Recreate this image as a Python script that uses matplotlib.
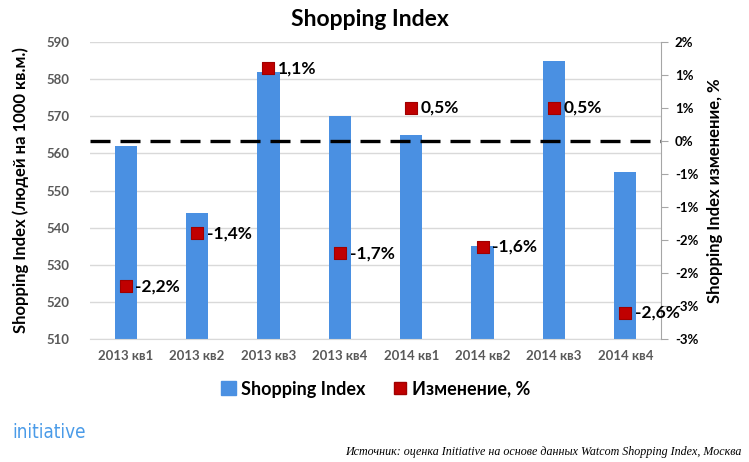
import matplotlib
matplotlib.use("Agg")
import matplotlib.pyplot as plt
from matplotlib.patches import Patch
from matplotlib.lines import Line2D
from matplotlib.ticker import FuncFormatter
import math

plt.rcParams['font.family'] = ['Lato', 'Open Sans', 'DejaVu Sans']

categories = ["2013 кв1", "2013 кв2", "2013 кв3", "2013 кв4",
              "2014 кв1", "2014 кв2", "2014 кв3", "2014 кв4"]
index_values = [562, 544, 582, 570, 565, 535, 585, 555]
change_pct = [-2.2, -1.4, 1.1, -1.7, 0.5, -1.6, 0.5, -2.6]
left_ticks = [510, 520, 530, 540, 550, 560, 570, 580, 590]
right_ticks = [-3.0, -2.5, -2.0, -1.5, -1.0, -0.5, 0.0, 0.5, 1.0, 1.5]

title = "Shopping Index"
left_label = "Shopping Index (людей на 1000 кв.м.)"
right_label = "Shopping Index изменение, %"
legend_labels = ["Shopping Index", "Изменение, %"]
source = "Источник: оценка Initiative на основе данных Watcom Shopping Index, Москва"
logo = "initiative"

BAR = "#4a90e2"
RED = "#c00000"
GRAY = "#595959"

fig = plt.figure(figsize=(7.49, 4.62), dpi=100)
ax = fig.add_axes([90/749, 1-339/462, (661-90)/749, (339-42)/462])
ax2 = ax.twinx()

x = list(range(len(categories)))
ax.bar(x, index_values, width=0.31, color=BAR, zorder=2)
ax.set_xlim(-0.5, len(categories)-0.5)
ax.set_ylim(510, 590)
ax.set_yticks(left_ticks)
ax.yaxis.grid(True, color="#d9d9d9", lw=1, zorder=0)
ax.set_axisbelow(True)
for s in ["top", "left", "right"]:
    ax.spines[s].set_visible(False)
ax.spines["bottom"].set_color("#d9d9d9")
ax.tick_params(axis="y", length=0, pad=15, labelsize=9.5, labelcolor=GRAY)
ax.tick_params(axis="x", length=0, pad=8, labelsize=9.5, labelcolor=GRAY)
ax.set_xticks(x)
ax.set_xticklabels(categories, fontweight="bold")
for t in ax.get_yticklabels():
    t.set_fontweight("bold")
ax.set_ylabel(left_label, fontsize=12, fontweight="bold", labelpad=12)

ax2.set_ylim(-3.0, 1.5)
ax2.set_yticks(right_ticks)

def pct_fmt(v, pos):
    r = int(math.copysign(math.floor(abs(v) + 0.5 + 1e-9), v))
    return f"{r}%"

ax2.yaxis.set_major_formatter(FuncFormatter(pct_fmt))
for s in ["top", "left", "bottom"]:
    ax2.spines[s].set_visible(False)
ax2.spines["right"].set_color("#a6a6a6")
ax2.tick_params(axis="y", length=5, color="#a6a6a6", pad=5, labelsize=9.5, labelcolor="black")
for t in ax2.get_yticklabels():
    t.set_fontweight("bold")
ax2.set_ylabel(right_label, fontsize=12, fontweight="bold", labelpad=6)

ax2.axhline(0, color="black", lw=2.4, dashes=(6, 3), zorder=3)
ax2.scatter(x, change_pct, marker="s", s=85, color=RED, edgecolors="#a00000",
            linewidths=0.8, zorder=4)
for xi, v in zip(x, change_pct):
    ax2.annotate(f"{v:.1f}%".replace(".", ","), (xi, v), xytext=(7, 0),
                 textcoords="offset points", va="center", ha="left",
                 fontsize=12.5, fontweight="bold", color="black", zorder=5)

fig.text(370/749, 1-20/462, title, ha="center", va="center", fontsize=16.5, fontweight="bold")

handles = [Patch(facecolor=BAR, edgecolor=BAR),
           Line2D([], [], marker="s", color="none", markerfacecolor=RED,
                  markeredgecolor="#a00000", markersize=9)]
leg = fig.legend(handles, legend_labels, loc="center", bbox_to_anchor=(376/749, 1-389/462),
                 ncol=2, frameon=False, handlelength=0.8, handleheight=0.8,
                 handletextpad=0.3, columnspacing=1.5,
                 prop={"size": 13, "weight": "bold"})

fig.text(12/749, 1-432/462, logo, ha="left", va="center", fontsize=13.5,
         fontstretch="condensed", color="#4a9be8", family=["DejaVu Sans"])
fig.text(742/749, 1-452/462, source, ha="right", va="center", fontsize=8.65,
         style="italic", family=["Liberation Serif", "DejaVu Serif"])

fig.savefig("out.png", dpi=100)
